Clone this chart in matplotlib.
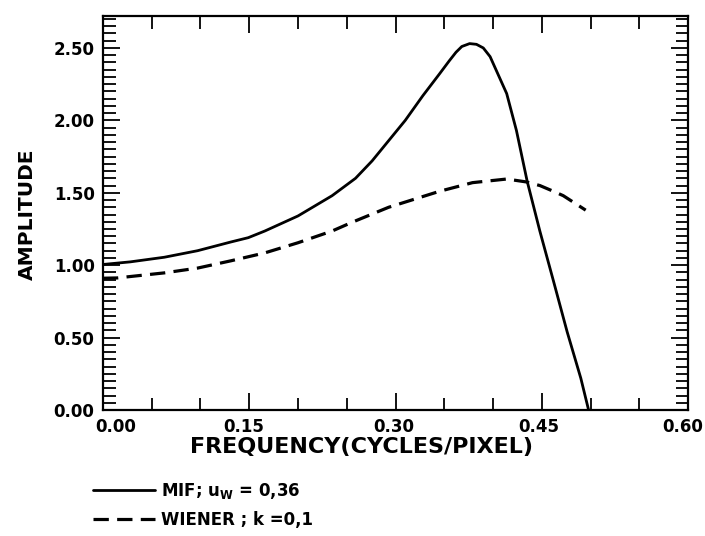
import numpy as np
import matplotlib
matplotlib.use('Agg')
import matplotlib.pyplot as plt
from matplotlib.ticker import MultipleLocator, FormatStrFormatter, NullFormatter

plt.rcParams['font.family'] = ['DejaVu Sans']
plt.rcParams['font.weight'] = 'bold'
plt.rcParams['mathtext.fontset'] = 'dejavusans'
plt.rcParams['mathtext.default'] = 'bf'

# ---------- data ----------
mif_freq = [0.000, 0.028, 0.063, 0.097, 0.131, 0.149, 0.166, 0.200, 0.235,
            0.259, 0.276, 0.293, 0.310, 0.328, 0.345, 0.355, 0.362, 0.368,
            0.376, 0.383, 0.390, 0.397, 0.403, 0.414, 0.424, 0.435, 0.448,
            0.462, 0.476, 0.490, 0.498]
mif_amp = [1.005, 1.023, 1.055, 1.10, 1.16, 1.19, 1.236, 1.34, 1.48,
           1.60, 1.72, 1.86, 2.00, 2.17, 2.32, 2.41, 2.47, 2.51,
           2.53, 2.525, 2.50, 2.44, 2.35, 2.185, 1.93, 1.58, 1.236,
           0.89, 0.54, 0.22, 0.00]

wiener_freq = [0.000, 0.0145, 0.063, 0.097, 0.131, 0.166, 0.200, 0.235,
               0.255, 0.293, 0.345, 0.379, 0.414, 0.434, 0.448, 0.462,
               0.472, 0.495]
wiener_amp = [0.91, 0.912, 0.947, 0.98, 1.03, 1.085, 1.155, 1.236,
              1.295, 1.40, 1.51, 1.57, 1.595, 1.575, 1.55, 1.51,
              1.48, 1.38]

xtick_vals = [0.00, 0.15, 0.30, 0.45, 0.60]
xtick_labels = ['0.00', '0.15', '0.30', '0.45', '0.60']
xtick_shift = [9, -4, -1.5, -2, -4]   # points, labels are hand placed

mif_label = r'MIF; u$_\mathbf{W}$ = 0,36'
wiener_label = 'WIENER ; k =0,1'
x_title = 'FREQUENCY(CYCLES/PIXEL)'
y_title = 'AMPLITUDE'
# -----------------------------------------------

fig = plt.figure(figsize=(7.05, 5.36), dpi=100)
ax = fig.add_axes([0.146, 0.235, 0.830, 0.735])

l1, = ax.plot(mif_freq, mif_amp, color='black', lw=2.0,
              solid_joinstyle='round', solid_capstyle='round')
l2, = ax.plot(wiener_freq, wiener_amp, color='black', lw=2.3,
              dashes=(4.8, 2.6), dash_joinstyle='round')

ax.set_xlim(0, 0.6)
ax.set_ylim(0, 2.72)

ax.xaxis.set_major_locator(MultipleLocator(0.15))
ax.xaxis.set_minor_locator(MultipleLocator(0.05))
ax.yaxis.set_major_locator(MultipleLocator(0.5))
ax.yaxis.set_minor_locator(MultipleLocator(0.05))
ax.xaxis.set_major_formatter(NullFormatter())
ax.yaxis.set_major_formatter(FormatStrFormatter('%.2f'))

ax.tick_params(which='both', direction='in', top=True, right=True,
               width=1.3, labelsize=12, colors='black')
ax.tick_params(which='major', length=12, pad=6)
ax.tick_params(which='minor', length=9)
for s in ax.spines.values():
    s.set_linewidth(1.6)

for lab in ax.get_yticklabels():
    lab.set_fontweight('bold')

# x tick labels drawn by hand so the end ones can sit inside the frame
xt = ax.get_xaxis_transform()
for v, t, dx in zip(xtick_vals, xtick_labels, xtick_shift):
    ax.annotate(t, (v, 0), xycoords=xt, xytext=(dx, -6),
                textcoords='offset points', ha='center', va='top',
                fontsize=12, fontweight='bold')

fig.text(362 / 705, 1 - 447 / 536, x_title, ha='center', va='center',
         fontsize=16, fontweight='bold')
fig.text(27 / 705, 1 - 214 / 536, y_title, ha='center', va='center',
         rotation=90, fontsize=14.5, fontweight='bold')

fig.legend([l1, l2], [mif_label, wiener_label], loc='upper left',
           bbox_to_anchor=(78 / 705, 1 - 466 / 536), frameon=False,
           handlelength=3.7, handletextpad=0.4, labelspacing=0.6,
           prop={'size': 12, 'weight': 'bold'})

fig.savefig('out.png', dpi=100)
